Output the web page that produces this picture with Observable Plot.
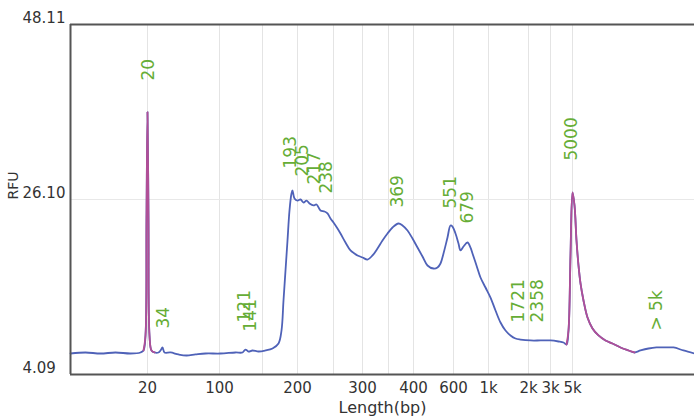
<!DOCTYPE html>
<html>
<head>
<meta charset="utf-8">
<script src="https://cdn.jsdelivr.net/npm/d3@7"></script>
<script src="https://cdn.jsdelivr.net/npm/@observablehq/plot@0.6"></script>
<style>
  html, body { margin: 0; padding: 0; background: #fff; }
  #chart svg { display: block; }
</style>
</head>
<body>
<div id="chart"></div>
<script>
// Migration time (s) and fluorescence (RFU)
const timeSec = [30.0,31.5,33.0,34.5,36.0,37.0,37.3,37.5,37.6,37.7,37.8,37.9,38.1,38.4,38.8,39.0,39.2,39.4,40.0,40.8,41.6,42.5,43.5,45.0,46.5,47.2,47.5,47.8,48.2,48.8,49.5,50.2,50.8,51.1,51.3,51.5,51.7,51.9,52.1,52.2,52.4,52.7,53.0,53.3,53.6,53.9,54.3,54.6,55.0,55.4,55.7,56.0,56.3,56.7,57.0,57.5,58.0,58.4,58.7,59.2,59.7,60.2,60.7,61.2,61.7,62.2,62.8,63.2,63.7,64.2,64.7,65.2,65.7,66.3,66.7,67.0,67.3,67.7,68.0,68.2,68.5,68.8,69.0,69.3,69.7,70.0,70.2,70.6,71.0,71.5,72.0,72.5,73.0,73.5,74.0,74.5,75.0,76.0,77.0,78.0,78.8,79.3,79.6,79.8,80.0,80.2,80.4,80.6,80.8,81.0,81.3,81.7,82.2,82.8,83.5,84.2,85.0,85.8,86.4,87.0,87.8,88.6,89.5,90.3,91.3,92.4];
const rfu = [6.73,6.86,6.73,6.86,6.73,6.86,7.11,9.00,23.46,37.10,23.46,9.00,7.11,6.86,6.86,7.11,7.49,6.86,6.86,6.61,6.48,6.61,6.73,6.73,6.86,6.86,7.23,6.98,7.11,6.98,7.11,7.36,7.99,9.62,13.40,17.17,20.94,24.72,26.85,27.23,26.23,25.97,26.10,25.72,25.97,25.60,25.35,25.47,24.72,24.59,24.34,23.71,23.21,22.45,21.82,20.69,19.69,19.31,19.06,18.81,18.55,19.06,19.94,20.94,21.82,22.58,23.08,22.83,22.20,21.19,20.06,18.93,17.80,17.42,17.55,18.05,19.31,21.32,22.83,22.70,21.82,20.57,19.69,20.19,20.69,20.06,19.31,17.80,16.29,15.03,13.77,12.14,10.63,9.62,9.00,8.62,8.49,8.37,8.37,8.37,8.24,8.11,7.86,9.62,19.06,26.98,25.35,20.94,17.80,15.54,13.40,11.26,9.88,9.00,8.37,7.99,7.49,7.11,6.86,7.11,7.36,7.49,7.49,7.49,7.11,6.73];

// Lower / upper marker time windows (drawn in magenta)
const markerStart = [37.3, 79.6];
const markerEnd = [38.4, 86.4];

// Peak size labels and where they sit
const peakLabels = ["20","34","121","141","193","205","217","238","369","551","679","1721","2358","5000","> 5k"];
const peakLabelTime = [37.8,39.3,47.4,48.0,52.0,53.2,54.4,55.6,62.7,68.0,69.7,74.8,76.7,80.1,88.6];
const peakLabelRfu = [41.07,9.88,10.63,9.50,30.00,28.99,27.99,26.85,25.09,24.97,23.08,10.63,10.63,31.00,9.62];

// X axis: size ladder tick labels at their migration times
const xTickLabels = ["20","100","200","300","400","600","1k","2k","3k","5k"];
const xTickTime = [37.7,44.9,52.7,59.2,64.3,68.3,71.8,75.8,78.0,80.2];
const extraGridTime = [49.2,56.3,61.8];

// Y axis ticks
const yTicks = [4.09, 26.10, 48.11];
const xDomain = [30.0, 92.4];

const rows = timeSec.map((t, i) => ({
  t, v: rfu[i],
  m: markerStart.findIndex((a, k) => t >= a && t <= markerEnd[k])
}));
const labelRows = peakLabels.map((s, i) => ({s, t: peakLabelTime[i], v: peakLabelRfu[i]}));
const xTickRows = xTickLabels.map((s, i) => ({s, t: xTickTime[i]}));

const blue = "#4f62b8";
const magenta = "#b04f97";
const green = "#66ad36";

const chart = Plot.plot({
  width: 694,
  height: 418,
  marginLeft: 70,
  marginRight: 0,
  marginTop: 24,
  marginBottom: 44,
  style: {fontFamily: "'DejaVu Sans', sans-serif", background: "#fff", overflow: "visible"},
  x: {axis: null, domain: xDomain},
  y: {axis: null, domain: [yTicks[0], yTicks[2]]},
  marks: [
    Plot.ruleX(xTickTime.concat(extraGridTime), {stroke: "#e4e4e4", strokeWidth: 1}),
    Plot.ruleY([yTicks[1]], {stroke: "#e8e8e8", strokeWidth: 1}),
    Plot.line(rows, {x: "t", y: "v", stroke: blue, strokeWidth: 1.8, curve: "catmull-rom"}),
    Plot.line(rows.filter(d => d.m >= 0), {x: "t", y: "v", z: "m", stroke: magenta, strokeWidth: 1.8, curve: "catmull-rom"}),
    Plot.text(labelRows, {x: "t", y: "v", text: "s", rotate: -90, textAnchor: "start", lineAnchor: "middle", fill: green, fontSize: 17}),
    Plot.ruleY([yTicks[0]], {stroke: "#555", strokeWidth: 2}),
    Plot.ruleY([yTicks[2]], {stroke: "#555", strokeWidth: 2}),
    Plot.ruleX([xDomain[0]], {stroke: "#555", strokeWidth: 2}),
    Plot.text(yTicks, {y: d => d, text: d => d.toFixed(2), frameAnchor: "left", dx: -48, dy: -6, textAnchor: "start", lineAnchor: "middle", fill: "#333", fontSize: 15}),
    Plot.text(xTickRows, {x: "t", text: "s", frameAnchor: "bottom", dy: 14, lineAnchor: "middle", fill: "#333", fontSize: 15}),
    Plot.text(["Length(bp)"], {frameAnchor: "bottom", dy: 33, lineAnchor: "middle", fill: "#333", fontSize: 16}),
    Plot.text(["RFU"], {frameAnchor: "left", dx: -57, dy: -14, rotate: -90, textAnchor: "middle", lineAnchor: "middle", fill: "#333", fontSize: 14})
  ]
});
document.getElementById("chart").appendChild(chart);
</script>
</body>
</html>
